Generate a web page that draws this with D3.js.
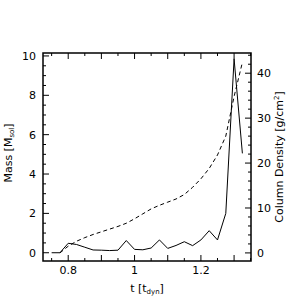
<!DOCTYPE html>
<html><head><meta charset="utf-8">
<script src="https://cdn.jsdelivr.net/npm/d3@7"></script>
<style>body{margin:0;background:#fff}svg{display:block}text{font-family:"DejaVu Sans",sans-serif;fill:#000}</style>
</head><body><svg id="c" width="304" height="304"></svg>
<script>
const massT = [0.75,0.775,0.8,0.825,0.85,0.875,0.9,0.925,0.95,0.975,1.0,1.025,1.05,1.075,1.1,1.125,1.15,1.175,1.2,1.225,1.25,1.275,1.3,1.325];
const massV = [0.0,0.0,0.48,0.42,0.28,0.14,0.13,0.11,0.13,0.62,0.17,0.15,0.24,0.65,0.22,0.37,0.56,0.36,0.65,1.12,0.65,2.0,9.85,5.05];
const colT = [0.775,0.8,0.825,0.85,0.875,0.9,0.925,0.95,0.975,1.0,1.025,1.05,1.075,1.1,1.125,1.15,1.175,1.2,1.225,1.25,1.275,1.3,1.325];
const colV = [0.0,1.5,2.6,3.4,4.1,4.7,5.3,5.9,6.6,7.6,8.7,9.8,10.6,11.3,12.0,13.0,14.6,16.5,18.8,21.8,26.0,34.8,42.4];
const xTickLabels = [0.8,1.0,1.2];
const yLeftTicks = [0,2,4,6,8,10];
const yRightTicks = [0,10,20,30,40];

const L=43,R=251,T=53,B=261;
const svg=d3.select("#c");
const x=d3.scaleLinear().domain([0.724,1.351]).range([L,R]);
const yL=d3.scaleLinear().domain([-0.42,10.15]).range([B,T]);
const yR=d3.scaleLinear().domain([-1.8,44.5]).range([B,T]);

const g=svg.append("g").attr("stroke","#000").attr("fill","none");
// frame
g.append("rect").attr("x",L).attr("y",T).attr("width",R-L).attr("height",B-T).attr("stroke-width",1.5);

// x ticks
const xMinor=d3.range(0.75,1.351,0.05).map(v=>+v.toFixed(3));
xMinor.forEach(v=>{
  const major=Math.abs(v*10-Math.round(v*10))<1e-6;
  const len=major?6:3;
  g.append("line").attr("x1",x(v)).attr("x2",x(v)).attr("y1",B).attr("y2",B-len).attr("stroke-width",1);
  g.append("line").attr("x1",x(v)).attr("x2",x(v)).attr("y1",T).attr("y2",T+len).attr("stroke-width",1);
});
// left ticks
d3.range(0,10.01,0.5).forEach(v=>{
  const major=Math.abs(v%2)<1e-6;
  g.append("line").attr("x1",L).attr("x2",L+(major?6:3)).attr("y1",yL(v)).attr("y2",yL(v)).attr("stroke-width",1);
});
// right ticks
d3.range(0,44.1,2).forEach(v=>{
  const major=v%10===0;
  g.append("line").attr("x1",R).attr("x2",R-(major?6:3)).attr("y1",yR(v)).attr("y2",yR(v)).attr("stroke-width",1);
});

// labels
const fs=11;
xTickLabels.forEach(v=>svg.append("text").attr("x",x(v)).attr("y",274).attr("text-anchor","middle").attr("font-size",fs).text(d3.format("~g")(v)));
yLeftTicks.forEach(v=>svg.append("text").attr("x",36).attr("y",yL(v)+4).attr("text-anchor","end").attr("font-size",fs).text(v));
yRightTicks.forEach(v=>svg.append("text").attr("x",257).attr("y",yR(v)+4).attr("text-anchor","start").attr("font-size",fs).text(v));

// axis titles
const xt=svg.append("text").attr("x",147).attr("y",292).attr("text-anchor","middle").attr("font-size",fs);
xt.append("tspan").text("t  [t");
xt.append("tspan").attr("font-size",7).attr("dy",2).text("dyn");
xt.append("tspan").attr("dy",-2).text("]");

const yt=svg.append("text").attr("transform","translate(12,153) rotate(-90)").attr("text-anchor","middle").attr("font-size",fs);
yt.append("tspan").text("Mass [M");
yt.append("tspan").attr("font-size",7).attr("dy",2).text("sol");
yt.append("tspan").attr("dy",-2).text("]");

const rt=svg.append("text").attr("transform","translate(283,157) rotate(-90)").attr("text-anchor","middle").attr("font-size",fs);
rt.append("tspan").text("Column Density [g/cm");
rt.append("tspan").attr("font-size",7).attr("dy",-4).text("2");
rt.append("tspan").attr("dy",4).text("]");

// data lines
const lm=d3.line().x((d,i)=>x(massT[i])).y(d=>yL(d));
svg.append("path").attr("d",lm(massV)).attr("fill","none").attr("stroke","#000").attr("stroke-width",1);
const lc=d3.line().x((d,i)=>x(colT[i])).y(d=>yR(d));
svg.append("path").attr("d",lc(colV)).attr("fill","none").attr("stroke","#000").attr("stroke-width",1).attr("stroke-dasharray","4,3");
</script></body></html>
